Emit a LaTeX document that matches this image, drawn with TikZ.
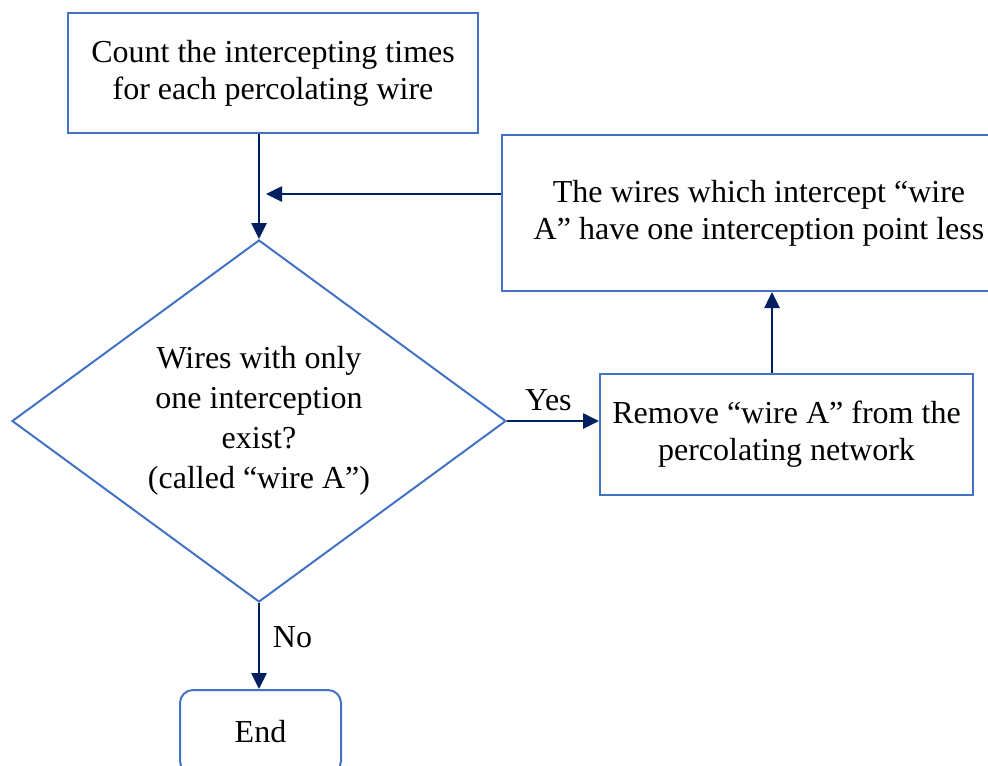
\documentclass[tikz,border=0pt]{standalone}
\usepackage{fontspec}
\setmainfont{Liberation Serif}
\usepackage{tikz}
\usetikzlibrary{arrows.meta,positioning,shapes.geometric,calc}
\usepackage{xcolor}
\definecolor{boxblue}{RGB}{68,114,196}
\definecolor{navyblue}{RGB}{0,32,96}
\tikzset{
  block/.style={rectangle, draw=boxblue, line width=1pt, fill=white,
                align=center, font=\fontsize{16}{18.5}\selectfont},
  decision/.style={diamond, draw=boxblue, line width=1pt, fill=white, inner sep=0pt,
                   shape aspect=1.36, minimum width=247pt, minimum height=181pt,
                   align=center, font=\fontsize{16}{20}\selectfont},
  terminal/.style={block, rounded corners=6.5pt},
  arrow/.style={-{Triangle[length=8pt,width=7.5pt]}, line width=1.3pt, navyblue},
  label/.style={font=\fontsize{16}{18.5}\selectfont, text=black},
}
\begin{document}
\begin{tikzpicture}[x=0.5pt,y=-0.5pt]
\useasboundingbox (0,0) rectangle (988,765);
\node[block, minimum width=205pt, minimum height=60pt] (count) at (273,73)
  {Count the intercepting times\\for each percolating wire};
\node[decision] (check) at (259,421)
  {Wires with only\\one interception\\exist?\\(called “wire A”)};
\node[block, minimum width=186.5pt, minimum height=60.5pt] (remove) at (786.5,434.5)
  {Remove “wire A” from the\\percolating network};
\node[block, minimum width=257pt, minimum height=78pt] (update) at (759,213)
  {The wires which intercept “wire\\A” have one interception point less};
\node[terminal, minimum width=80.5pt, minimum height=42pt] (stop) at (260.5,732) {End};
\coordinate (join) at (266,194);
\draw[arrow] (count.south -| check.north) -- (check.north);
\draw[arrow] (check.east) -- (check.east -| remove.west)
  node[label, pos=0.45, above=1pt] {Yes};
\draw[arrow] ([xshift=-7.25pt]remove.north) -- ([xshift=-7.25pt]remove.north |- update.south);
\draw[arrow] (update.west |- join) -- (join);
\draw[arrow] (check.south) -- (check.south |- stop.north)
  node[label, pos=0.4, right=3pt] {No};
\end{tikzpicture}
\end{document}
